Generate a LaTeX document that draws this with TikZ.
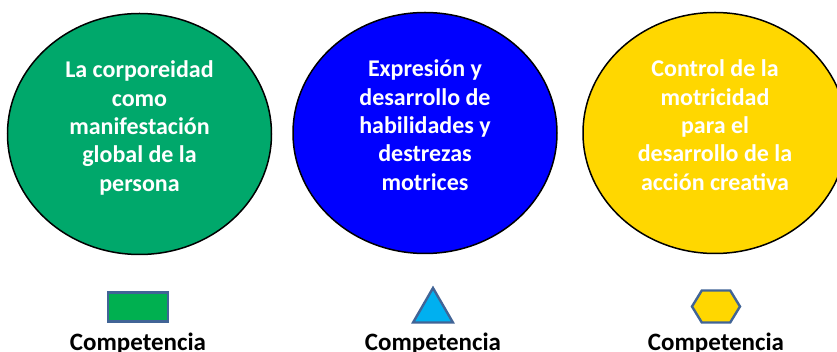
\documentclass[tikz,border=0pt]{standalone}
\usepackage{fontspec}
\setmainfont{Carlito}
\usepackage{tikz}
\usetikzlibrary{positioning}
\usetikzlibrary{shapes.geometric,shapes.symbols}
\definecolor{verde}{RGB}{0,168,107}
\definecolor{azul}{RGB}{0,0,255}
\definecolor{amarillo}{RGB}{255,215,0}
\definecolor{verdeclaro}{RGB}{0,176,80}
\definecolor{celeste}{RGB}{0,176,240}
\definecolor{borde}{RGB}{65,100,150}
\tikzset{
  area/.style={ellipse, draw=black, line width=0.75pt, inner sep=0pt,
               minimum width=132pt, minimum height=120.5pt, align=center,
               text depth=8pt, text=white,
               font=\bfseries\fontsize{12}{14.2}\selectfont},
  marca/.style={draw=borde, line width=1.2pt, inner sep=0pt},
  rotulo/.style={font=\bfseries\fontsize{12.5}{14}\selectfont, inner sep=0pt}
}

\begin{document}
\begin{tikzpicture}[x=0.5pt,y=-0.5pt]
  \useasboundingbox (0,0) rectangle (837,352);
  % the three areas
  \node (a1) [area, fill=verde] at (139.5,134)
    {La corporeidad\\como\\manifestación\\global de la\\persona};
  \node (a2) [area, fill=azul] at (425,133)
    {Expresión y\\desarrollo de\\habilidades y\\destrezas\\motrices};
  \node (a3) [area, fill=amarillo] at (715,133)
    {Control de la\\motricidad\\para el\\desarrollo de la\\acción creativa};
  % marks and labels
  \node (m1) [marca, rectangle, fill=verdeclaro, minimum width=30pt,
              minimum height=14.5pt] at (138,307) {};
  \node (m2) [marca, regular polygon, regular polygon sides=3, fill=celeste,
              minimum size=23pt] at (433,311) {};
  \node (m3) [marca, signal, signal to=west and east, signal pointer angle=117,
              fill=amarillo, minimum width=24pt, minimum height=16pt] at (716,306.5) {};
  \node (c1) [rotulo, below=5pt of m1] {Competencia};
  \node (c2) [rotulo, anchor=base] at (c1.base -| m2) {Competencia};
  \node (c3) [rotulo, anchor=base] at (c1.base -| m3) {Competencia};
\end{tikzpicture}
\end{document}
